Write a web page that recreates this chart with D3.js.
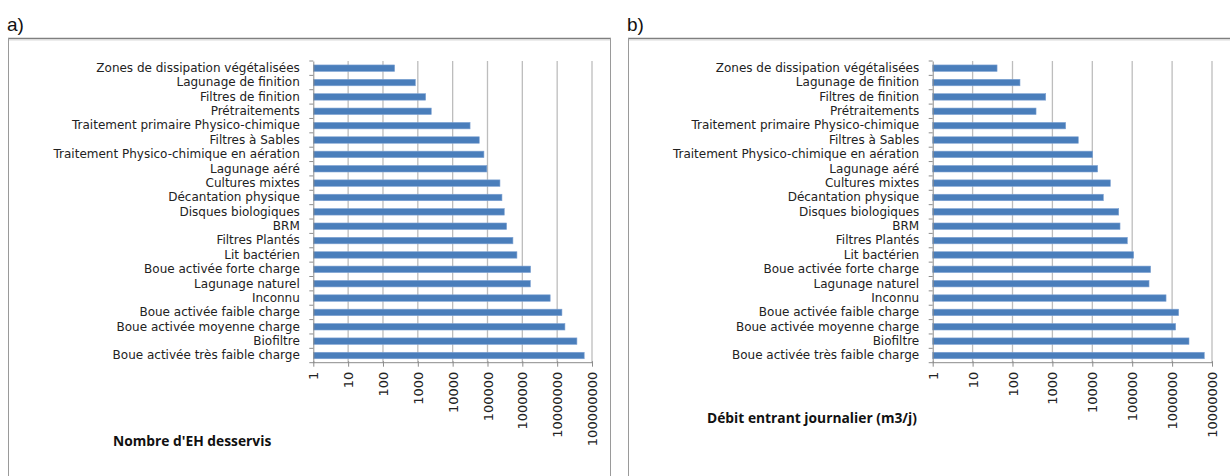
<!DOCTYPE html>
<html><head><meta charset="utf-8">
<script src="https://cdn.jsdelivr.net/npm/d3@7"></script>
<style>
html,body{margin:0;padding:0;background:#fff;}
svg{display:block;}
</style></head>
<body>
<svg id="chart" width="1230" height="476"></svg>
<script>
const categories = [
  "Zones de dissipation végétalisées",
  "Lagunage de finition",
  "Filtres de finition",
  "Prétraitements",
  "Traitement primaire Physico-chimique",
  "Filtres à Sables",
  "Traitement Physico-chimique en aération",
  "Lagunage aéré",
  "Cultures mixtes",
  "Décantation physique",
  "Disques biologiques",
  "BRM",
  "Filtres Plantés",
  "Lit bactérien",
  "Boue activée forte charge",
  "Lagunage naturel",
  "Inconnu",
  "Boue activée faible charge",
  "Boue activée moyenne charge",
  "Biofiltre",
  "Boue activée très faible charge"
];
const ehValues = [216, 850, 1680, 2430, 31600, 58000, 79000, 96000, 228000, 260000, 303000, 354000, 537000, 700000, 1730000, 1700000, 6300000, 13700000, 16700000, 36900000, 59700000];
const debitValues = [41, 154, 680, 389, 2150, 4450, 10200, 13600, 28300, 18900, 45900, 49500, 75400, 109000, 290000, 264000, 705000, 1460000, 1230000, 2650000, 6400000];
const ehTicks = ["1","10","100","1000","10000","100000","1000000","10000000","100000000"];
const debitTicks = ["1","10","100","1000","10000","100000","1000000","10000000"];
const panelLabels = ["a)", "b)"];
const axisTitles = ["Nombre d'EH desservis", "Débit entrant journalier (m3/j)"];

const svg = d3.select("#chart");
const CAT_FONT = "'DejaVu Sans', sans-serif";
const TITLE_FONT = "'Open Sans', Lato, sans-serif";

function panel(cfg) {
  const g = svg.append("g");
  // frame
  g.append("line").attr("x1", cfg.fx0).attr("x2", cfg.fx1).attr("y1", 38.5).attr("y2", 38.5)
    .attr("stroke", "#7f7f7f").attr("stroke-width", 1.6);
  g.append("line").attr("x1", cfg.fx0).attr("x2", cfg.fx1).attr("y1", 40).attr("y2", 40)
    .attr("stroke", "#d9d9d9").attr("stroke-width", 1);
  g.append("line").attr("x1", cfg.fx0 + 0.5).attr("x2", cfg.fx0 + 0.5).attr("y1", 38).attr("y2", 476)
    .attr("stroke", "#9a9a9a").attr("stroke-width", 1);
  if (cfg.rightEdge) {
    g.append("line").attr("x1", cfg.fx1 - 0.5).attr("x2", cfg.fx1 - 0.5).attr("y1", 38).attr("y2", 476)
      .attr("stroke", "#9a9a9a").attr("stroke-width", 1);
  }
  g.append("text").attr("x", cfg.fx0 - 1).attr("y", 31).text(cfg.label)
    .attr("font-family", "'Liberation Sans Narrow','Liberation Sans',Arial,sans-serif")
    .attr("font-size", 19).attr("fill", "#111");

  const x = d3.scaleLog().domain([1, +cfg.ticks[cfg.ticks.length - 1]]).range([cfg.x0, cfg.x1]);
  const y = d3.scaleBand().domain(categories).range([61, 362.7]).paddingInner(0.55).paddingOuter(0.275);
  const yb = d3.scaleBand().domain(categories).range([61, 362.7]);
  const tickVals = cfg.ticks.map(Number);

  // gridlines
  g.append("g").selectAll("line").data(tickVals.slice(1)).join("line")
    .attr("x1", d => x(d)).attr("x2", d => x(d)).attr("y1", 61).attr("y2", 362.7)
    .attr("stroke", "#bdbdbd").attr("stroke-width", 1.3);

  // bars
  g.append("g").selectAll("rect").data(cfg.values).join("rect")
    .attr("x", x(1)).attr("y", (d, i) => y(categories[i]))
    .attr("width", d => x(d) - x(1)).attr("height", y.bandwidth())
    .attr("fill", "#4a7ebb").attr("stroke", "#7ea2d2").attr("stroke-width", 0.6);

  // y axis
  const ya = g.append("g").attr("transform", `translate(${cfg.x0},0)`)
    .call(d3.axisLeft(yb).tickSize(0).tickPadding(13.5));
  ya.select(".domain").attr("stroke", "#8c8c8c").attr("stroke-width", 1);
  ya.selectAll("text").attr("font-family", CAT_FONT).attr("font-size", 12).attr("fill", "#222");
  // minor ticks at band boundaries
  const bounds = categories.map(c => yb(c)).concat([362.7]);
  g.append("g").selectAll("line").data(bounds).join("line")
    .attr("x1", cfg.x0 - 4).attr("x2", cfg.x0).attr("y1", d => d).attr("y2", d => d)
    .attr("stroke", "#8c8c8c").attr("stroke-width", 1);

  // x axis
  const xa = g.append("g").attr("transform", "translate(0,362.7)")
    .call(d3.axisBottom(x).tickValues(tickVals).tickFormat((d, i) => cfg.ticks[i]).tickSize(4).tickPadding(6));
  xa.select(".domain").attr("stroke", "#8c8c8c").attr("stroke-width", 1).attr("d", `M${cfg.x0},0H${cfg.x1}`);
  xa.selectAll(".tick line").attr("stroke", "#8c8c8c").attr("y1", -1.5);
  xa.selectAll("text")
    .attr("font-family", CAT_FONT).attr("font-size", 13).attr("fill", "#222")
    .attr("text-anchor", "end").attr("dy", null).attr("y", 0)
    .attr("transform", "translate(0,9) rotate(-90)").attr("dy", "0.35em");

  g.append("text").attr("x", cfg.tx).attr("y", cfg.ty).text(cfg.title)
    .attr("font-family", TITLE_FONT).attr("font-size", 13.8).attr("font-weight", "bold").attr("fill", "#111");
}

panel({label: panelLabels[0], fx0: 8, fx1: 611, rightEdge: true, x0: 313.3, x1: 592, ticks: ehTicks, values: ehValues,
  title: axisTitles[0], tx: 113, ty: 446});
panel({label: panelLabels[1], fx0: 628, fx1: 1230, rightEdge: false, x0: 932.7, x1: 1212, ticks: debitTicks, values: debitValues,
  title: axisTitles[1], tx: 707, ty: 423});
</script>
</body></html>
